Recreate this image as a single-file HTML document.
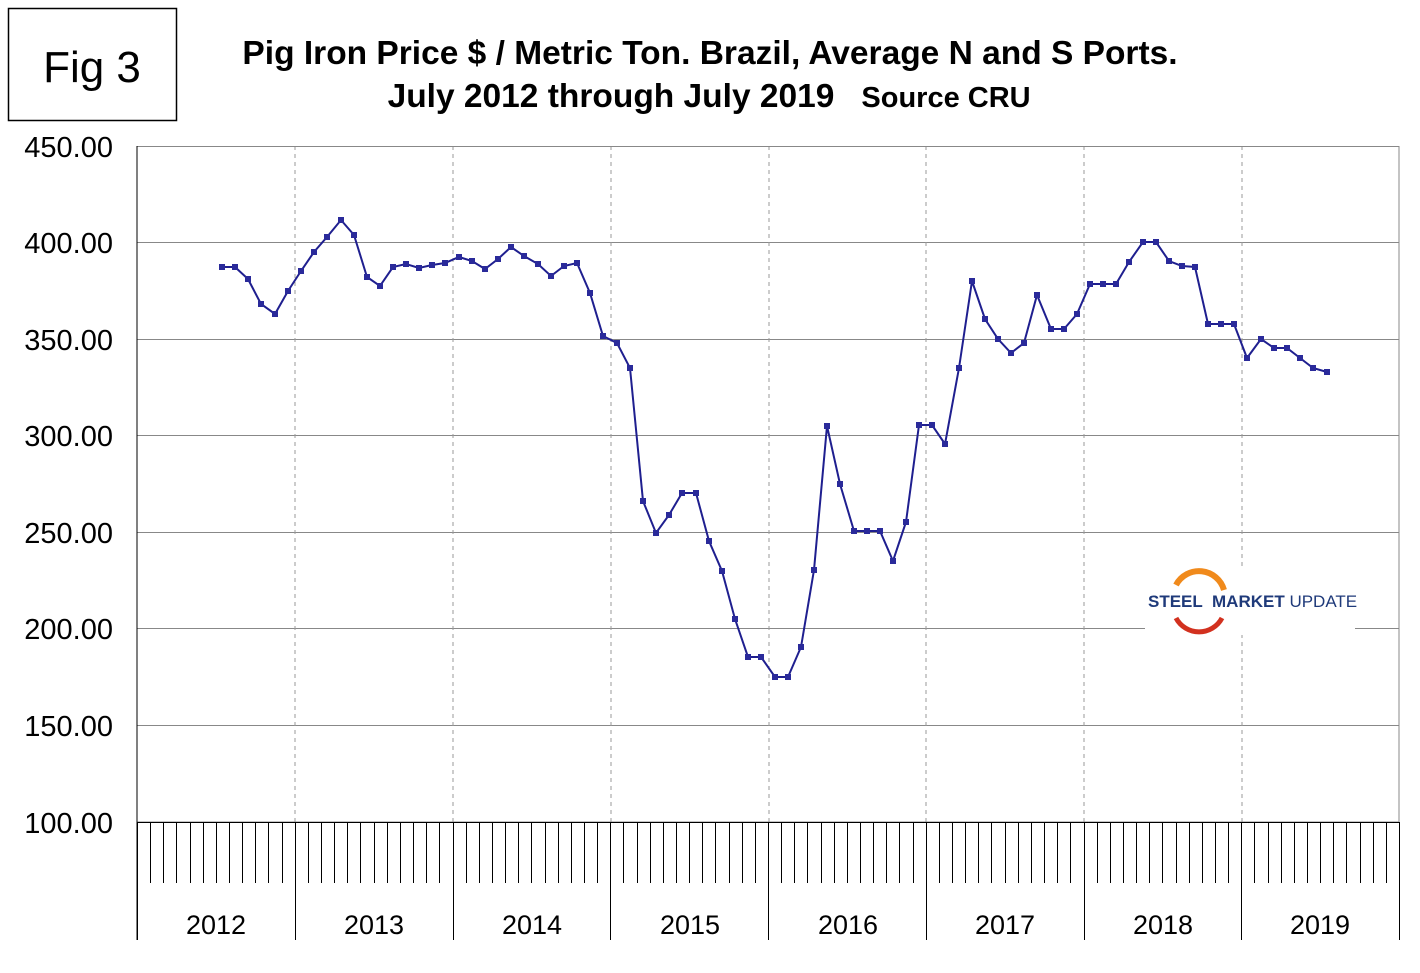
<!DOCTYPE html>
<html><head><meta charset="utf-8"><style>
body{margin:0;background:#fff;}
svg{display:block;font-family:"Liberation Sans",Arial,sans-serif;}
</style></head><body>
<svg width="1420" height="973" viewBox="0 0 1420 973" xmlns="http://www.w3.org/2000/svg">
<rect width="1420" height="973" fill="#fff"/>
<rect x="8.5" y="8.5" width="168" height="112" fill="none" stroke="#000" stroke-width="1.5"/>
<text x="92" y="82" font-size="44" text-anchor="middle">Fig 3</text>
<text x="710" y="64" font-size="33.5" font-weight="bold" text-anchor="middle">Pig Iron Price $ / Metric Ton. Brazil, Average N and S Ports.</text>
<text x="611" y="107" font-size="33.5" font-weight="bold" text-anchor="middle">July 2012 through July 2019</text>
<text x="946" y="107" font-size="29" font-weight="bold" text-anchor="middle">Source CRU</text>
<g stroke="#888" stroke-width="1">
<line x1="137" y1="242.5" x2="1399" y2="242.5"/>
<line x1="137" y1="339.5" x2="1399" y2="339.5"/>
<line x1="137" y1="435.5" x2="1399" y2="435.5"/>
<line x1="137" y1="532.5" x2="1399" y2="532.5"/>
<line x1="137" y1="628.5" x2="1399" y2="628.5"/>
<line x1="137" y1="725.5" x2="1399" y2="725.5"/>
</g>
<g stroke="#999" stroke-width="1" stroke-dasharray="4,4">
<line x1="295" y1="146" x2="295" y2="822"/><line x1="453" y1="146" x2="453" y2="822"/>
<line x1="611" y1="146" x2="611" y2="822"/><line x1="769" y1="146" x2="769" y2="822"/>
<line x1="926" y1="146" x2="926" y2="822"/><line x1="1084" y1="146" x2="1084" y2="822"/>
<line x1="1242" y1="146" x2="1242" y2="822"/>
</g>
<rect x="137" y="146.5" width="1262" height="675.5" fill="none" stroke="#888"/>
<line x1="137" y1="822.5" x2="1399" y2="822.5" stroke="#000"/>
<line x1="137" y1="146" x2="137" y2="940" stroke="#000"/>
<g id="ticks" stroke="#000" stroke-width="1"></g>
<g font-size="29" text-anchor="end">
<text x="113" y="157">450.00</text><text x="113" y="253">400.00</text><text x="113" y="350">350.00</text>
<text x="113" y="446">300.00</text><text x="113" y="543">250.00</text><text x="113" y="639">200.00</text>
<text x="113" y="736">150.00</text><text x="113" y="833">100.00</text>
</g>
<g font-size="27" text-anchor="middle">
<text x="216" y="934">2012</text><text x="374" y="934">2013</text><text x="532" y="934">2014</text>
<text x="690" y="934">2015</text><text x="848" y="934">2016</text><text x="1005" y="934">2017</text>
<text x="1163" y="934">2018</text><text x="1320" y="934">2019</text>
</g>
<rect x="1145" y="570" width="210" height="65" fill="#fff"/>
<path d="M1176 585 A26 26 0 0 1 1224 590" fill="none" stroke="#f08a1c" stroke-width="6"/>
<path d="M1176 618 A26 26 0 0 0 1222 618" fill="none" stroke="#d2311f" stroke-width="5"/>
<text x="1148" y="607" font-size="17" font-weight="bold" fill="#1f3a7a">STEEL</text>
<text x="1212" y="607" font-size="17" fill="#1f3a7a"><tspan font-weight="bold">MARKET</tspan> UPDATE</text>
<polyline id="line" fill="none" stroke="#1f1f8f" stroke-width="2"/>
<g id="pts" fill="#2a2a9a"></g>
</svg>
<script>
var d=[[222,267],[235,267],[248,279],[261,304],[275,314],[288,291],[301,271],[314,252],[327,237],[341,220],[354,235],[367,277],[380,286],[393,267],[406,264],[419,268],[432,265],[445,263],[459,257],[472,261],[485,269],[498,259],[511,247],[524,256],[538,264],[551,276],[564,266],[577,263],[590,293],[603,336],[617,343],[630,368],[643,501],[656,533],[669,515],[682,493],[696,493],[709,541],[722,571],[735,619],[748,657],[761,657],[775,677],[788,677],[801,647],[814,570],[827,426],[840,484],[854,531],[867,531],[880,531],[893,561],[906,522],[919,425],[932,425],[945,444],[959,368],[972,281],[985,319],[998,339],[1011,353],[1024,343],[1037,295],[1051,329],[1064,329],[1077,314],[1090,284],[1103,284],[1116,284],[1129,262],[1143,242],[1156,242],[1169,261],[1182,266],[1195,267],[1208,324],[1221,324],[1234,324],[1247,358],[1261,339],[1274,348],[1287,348],[1300,358],[1313,368],[1327,372]];
var ns="http://www.w3.org/2000/svg";
document.getElementById('line').setAttribute('points',d.map(p=>p.join(',')).join(' '));
var g=document.getElementById('pts');
d.forEach(p=>{var r=document.createElementNS(ns,'rect');r.setAttribute('x',p[0]-3);r.setAttribute('y',p[1]-3);r.setAttribute('width',6);r.setAttribute('height',6);g.appendChild(r);});
var t=document.getElementById('ticks');
for(var i=0;i<=96;i++){var x=Math.round(137+i*1262/96)+0.5;var l=document.createElementNS(ns,'line');l.setAttribute('x1',x);l.setAttribute('x2',x);l.setAttribute('y1',822);l.setAttribute('y2',i%12==0?940:883);t.appendChild(l);}
</script>
</body></html>
